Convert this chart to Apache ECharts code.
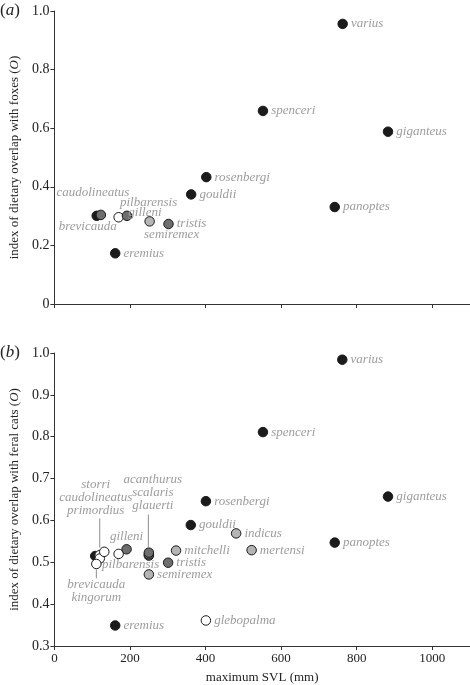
<!DOCTYPE html>
<html>
<head>
<meta charset="utf-8">
<script src="https://cdn.jsdelivr.net/npm/echarts@6/dist/echarts.min.js"></script>
<style>
html,body{margin:0;padding:0;background:#fff;}
#chart{width:470px;height:685px;}
</style>
</head>
<body>
<div id="chart"></div>
<script>
// ---------- data ----------
// panel (a): foxes
var foxNames   = ['brevicauda','caudolineatus','pilbarensis','gilleni','semiremex','tristis','eremius','gouldii','rosenbergi','spenceri','panoptes','varius','giganteus'];
var foxSVL     = [112, 123, 170, 192, 252, 302, 161, 362, 402, 552, 742, 763, 883];
var foxOverlap = [0.301, 0.304, 0.296, 0.301, 0.282, 0.273, 0.173, 0.374, 0.433, 0.659, 0.331, 0.956, 0.588];
var foxShade   = ['black','dark','white','dark','light','dark','black','black','black','black','black','black','black'];

// panel (b): feral cats
var catNames   = ['brevicauda','caudolineatus','primordius','kingorum','storri','pilbarensis','gilleni','glauerti','scalaris','acanthurus','semiremex','tristis','mitchelli','eremius','gouldii','rosenbergi','glebopalma','indicus','mertensi','spenceri','panoptes','varius','giganteus'];
var catSVL     = [108, 120, 120, 111, 132, 170, 191, 250, 250, 250, 250, 301, 322, 161, 361, 401, 401, 481, 522, 552, 742, 762, 883];
var catOverlap = [0.515, 0.517, 0.509, 0.496, 0.525, 0.520, 0.531, 0.516, 0.519, 0.523, 0.471, 0.499, 0.528, 0.349, 0.589, 0.646, 0.361, 0.569, 0.529, 0.811, 0.547, 0.984, 0.657];
var catShade   = ['black','white','white','white','white','white','dark','dark','dark','dark','light','dark','light','black','black','black','white','light','light','black','black','black','black'];

// grouped labels in panel (b)
var catGroupA = ['storri','caudolineatus','primordius'];
var catGroupB = ['acanthurus','scalaris','glauerti'];
var catGroupC = ['brevicauda','kingorum'];

// axis ticks
var xTicks    = [0, 200, 400, 600, 800, 1000];
var yTicksFox = [0, 0.2, 0.4, 0.6, 0.8, 1.0];
var yTicksCat = [0.3, 0.4, 0.5, 0.6, 0.7, 0.8, 0.9, 1.0];

// ---------- styles ----------
var SERIF = '"Liberation Serif", "Times New Roman", serif';
var shadeColor = {black:'#1b1b1b', dark:'#6e6e6e', light:'#b4b4b4', white:'#ffffff'};
var labelGrey = '#9c9c9c';
var leaderGrey = '#8c8c8c';

var foxLabelPlace = {
  caudolineatus: {position:'inside', offset:[-8,-22]},
  brevicauda:    {position:'inside', offset:[-9,11]},
  pilbarensis:   {position:'inside', offset:[30,-15]},
  gilleni:       {position:'inside', offset:[18,-3]},
  semiremex:     {position:'inside', offset:[22,13]}
};
// leader: 'up' = text above with a line down to the point, 'down' = line then text below
var catLabelPlace = {
  caudolineatus: {group:catGroupA, leader:'up', lead:'{sp8|}{bar29|}', position:'top', distance:1, offset:[-4,0]},
  acanthurus:    {group:catGroupB, leader:'up', lead:'{bar32|}{sp9|}', position:'top', distance:-2, offset:[4,0]},
  kingorum:      {group:catGroupC, leader:'down', lead:'{bar9|}', position:'bottom', distance:0, offset:[0,0]},
  gilleni:       {position:'top', distance:1},
  pilbarensis:   {position:'inside', offset:[12,11]},
  brevicauda:    {hide:true}, storri:{hide:true}, primordius:{hide:true},
  scalaris:      {hide:true}, glauerti:{hide:true}
};

var leaderRich = {
  bar29: {width: 1, height: 29, lineHeight: 32, backgroundColor: leaderGrey},
  bar32: {width: 1, height: 33, lineHeight: 37, backgroundColor: leaderGrey},
  bar9:  {width: 1, height: 9, lineHeight: 9, backgroundColor: leaderGrey},
  sp8:   {width: 8, height: 1},
  sp9:   {width: 9, height: 1}
};

function buildData(names, xs, ys, shades, place) {
  return names.map(function (n, i) {
    var p = place[n] || {};
    var text = n;
    if (p.group) {
      text = p.leader === 'up' ? p.group.join('\n') + '\n' + p.lead
                               : p.lead + '\n' + p.group.join('\n');
    }
    return {
      name: n,
      value: [xs[i], ys[i]],
      itemStyle: {color: shadeColor[shades[i]]},
      label: {
        show: !p.hide,
        position: p.position || 'right',
        distance: p.distance != null ? p.distance : 3,
        offset: p.offset || [0, 0],
        formatter: text
      }
    };
  });
}

var axisLineStyle = {color:'#333', width:1};
var xLabelStyle = {fontFamily: SERIF, fontSize: 13, color:'#222'};
var yLabelStyle = {fontFamily: SERIF, fontSize: 14, color:'#222'};

function yName(animal) {
  return 'index of dietary overlap with ' + animal + ' ({i|O})';
}
var nameStyle = {
  fontFamily: SERIF, fontSize: 13, color: '#222',
  rich: {i: {fontFamily: SERIF, fontSize: 13, color:'#222', fontStyle:'italic'}}
};
var panelRich = {
  p: {fontFamily: SERIF, fontSize: 17, color: '#222', fontWeight: 'normal'},
  i: {fontFamily: SERIF, fontSize: 17, color: '#222', fontStyle: 'italic', fontWeight: 'normal'}
};

var seriesCommon = {
  type: 'scatter',
  symbol: 'circle',
  symbolSize: 9.5,
  itemStyle: {borderColor: '#1a1a1a', borderWidth: 1, opacity: 1},
  label: {fontFamily: SERIF, fontSize: 13, fontStyle: 'italic', color: labelGrey, lineHeight: 13, rich: leaderRich},
  emphasis: {disabled: true},
  animation: false
};

var chart = echarts.init(document.getElementById('chart'), null, {renderer: 'canvas'});
chart.setOption({
  backgroundColor: '#fff',
  animation: false,
  title: [
    {text: '{p|(}{i|a}{p|)}', left: 0, top: 2, padding: 0, textStyle: {fontWeight: 'normal', rich: panelRich}},
    {text: '{p|(}{i|b}{p|)}', left: 0, top: 344, padding: 0, textStyle: {fontWeight: 'normal', rich: panelRich}}
  ],
  grid: [
    {left: 50, top: 11, width: 420, height: 293},
    {left: 50, top: 353, width: 420, height: 294}
  ],
  xAxis: [
    {gridIndex: 0, type: 'value', min: 0, max: 1100, interval: 200,
     axisLine: {lineStyle: axisLineStyle}, splitLine: {show: false},
     axisTick: {show: true, length: 4, lineStyle: axisLineStyle, customValues: xTicks},
     axisLabel: {show: false}},
    {gridIndex: 1, type: 'value', min: 0, max: 1100, interval: 200,
     name: 'maximum SVL (mm)', nameLocation: 'middle', nameGap: 25,
     nameTextStyle: {fontFamily: SERIF, fontSize: 13, color: '#222'},
     axisLine: {lineStyle: axisLineStyle}, splitLine: {show: false},
     axisTick: {show: true, length: 4, lineStyle: axisLineStyle, customValues: xTicks},
     axisLabel: Object.assign({margin: 6, customValues: xTicks,
       formatter: function (v) { return String(v); }}, xLabelStyle)}
  ],
  yAxis: [
    {gridIndex: 0, type: 'value', min: 0, max: 1, interval: 0.2,
     name: yName('foxes'), nameLocation: 'middle', nameGap: 30, nameRotate: 90,
     nameTextStyle: nameStyle,
     axisLine: {show: true, lineStyle: axisLineStyle}, splitLine: {show: false},
     axisTick: {show: true, length: 4, lineStyle: axisLineStyle, customValues: yTicksFox},
     axisLabel: Object.assign({margin: 5, customValues: yTicksFox,
       formatter: function (v) { return v === 0 ? '0' : v.toFixed(1); }}, yLabelStyle)},
    {gridIndex: 1, type: 'value', min: 0.3, max: 1, interval: 0.1,
     name: yName('feral cats'), nameLocation: 'middle', nameGap: 30, nameRotate: 90,
     nameTextStyle: nameStyle,
     axisLine: {show: true, lineStyle: axisLineStyle}, splitLine: {show: false},
     axisTick: {show: true, length: 4, lineStyle: axisLineStyle, customValues: yTicksCat},
     axisLabel: Object.assign({margin: 5, customValues: yTicksCat,
       formatter: function (v) { return v.toFixed(1); }}, yLabelStyle)}
  ],
  series: [
    Object.assign({}, seriesCommon, {xAxisIndex: 0, yAxisIndex: 0,
      data: buildData(foxNames, foxSVL, foxOverlap, foxShade, foxLabelPlace)}),
    Object.assign({}, seriesCommon, {xAxisIndex: 1, yAxisIndex: 1,
      data: buildData(catNames, catSVL, catOverlap, catShade, catLabelPlace)})
  ]
});
</script>
</body>
</html>
